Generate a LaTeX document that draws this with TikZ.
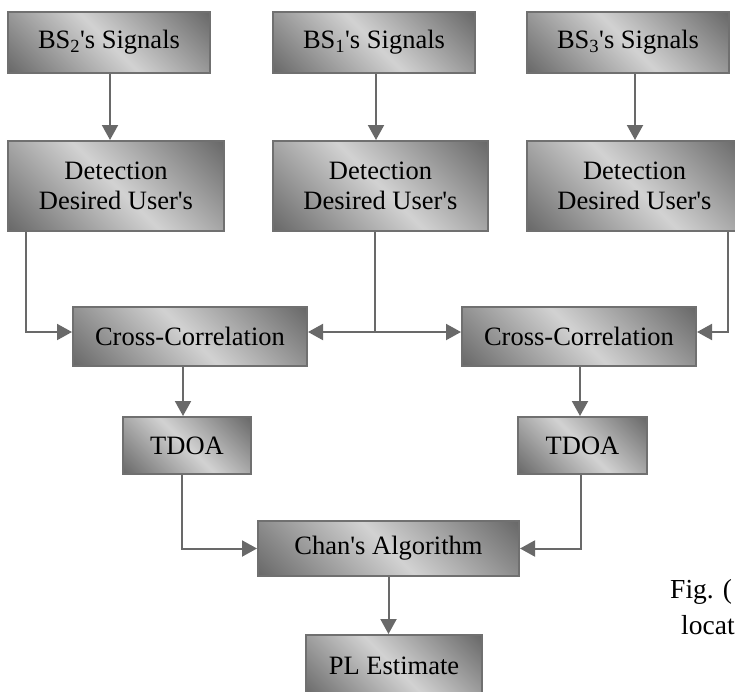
\documentclass[tikz,border=0pt]{standalone}
\usepackage{fontspec}
\setmainfont{Liberation Serif}[Ligatures=TeXOff]
\usetikzlibrary{arrows.meta}
\definecolor{boxdark}{RGB}{102,102,102}
\definecolor{boxlight}{RGB}{210,210,210}
\definecolor{edgecol}{RGB}{112,112,112}
\definecolor{linecol}{RGB}{105,105,105}
\pgfdeclareverticalshading{boxshade}{100bp}{color(0bp)=(boxdark); color(14bp)=(boxdark); color(50bp)=(boxlight); color(86bp)=(boxdark); color(100bp)=(boxdark)}
\begin{document}
\begin{tikzpicture}[x=1pt,y=-1pt,
  blk/.style={draw=edgecol, line width=2pt, inner sep=0pt, align=center,
    font=\fontsize{26.5}{30}\selectfont,
    shading=boxshade, shading angle=135},
  con/.style={draw=linecol, line width=2pt},
  arr/.style={con, -{Triangle[length=15pt,width=16pt]}},
  captext/.style={inner sep=0pt, font=\fontsize{27.5}{33}\selectfont}]
\useasboundingbox (0,0) rectangle (735,691);
% row 1
\node[blk, minimum width=202pt, minimum height=61pt] (bs2) at (109,42.5) {BS\textsubscript{2}'s Signals};
\node[blk, minimum width=202pt, minimum height=61pt] (bs1) at (374,42.5) {BS\textsubscript{1}'s Signals};
\node[blk, minimum width=202pt, minimum height=61pt] (bs3) at (628,42.5) {BS\textsubscript{3}'s Signals};
% row 2
\node[blk, minimum width=216pt, minimum height=90pt] (det2) at (116,186) {Detection\\Desired User's};
\node[blk, minimum width=215pt, minimum height=90pt] (det1) at (380.5,186) {Detection\\Desired User's};
\node[blk, minimum width=215pt, minimum height=90pt] (det3) at (634.5,186) {Detection\\Desired User's};
% row 3
\node[blk, minimum width=234pt, minimum height=59pt] (cc1) at (190,336.5) {Cross-Correlation};
\node[blk, minimum width=234pt, minimum height=59pt] (cc2) at (579,336.5) {Cross-Correlation};
% row 4
\node[blk, minimum width=128pt, minimum height=57pt] (td1) at (187,445.5) {TDOA};
\node[blk, minimum width=129pt, minimum height=57pt] (td2) at (582.5,445.5) {TDOA};
% row 5
\node[blk, minimum width=261pt, minimum height=55pt] (chan) at (388.5,548.5) {Chan's Algorithm};
% row 6
\node[blk, minimum width=176pt, minimum height=62pt] (pl) at (394,666) {PL Estimate};
% caption fragment
\node[captext, anchor=base west] (fig) at (670,598) {Fig. (};
\node[captext, anchor=base west] (loc) at (681,634) {locat};
% connectors
\draw[arr] ([xshift=1pt]bs2.south) -- ([xshift=1pt]bs2.south |- det2.north);
\draw[arr] ([xshift=2pt]bs1.south) -- ([xshift=2pt]bs1.south |- det1.north);
\draw[arr] ([xshift=7pt]bs3.south) -- ([xshift=7pt]bs3.south |- det3.north);
\draw[arr] ([xshift=-90pt]det2.south) |- ([yshift=4.5pt]cc1.west);
\coordinate (j) at (375,332);
\draw[con] ([xshift=-5.5pt]det1.south) -- (j);
\draw[arr] (j) -- ([yshift=4.5pt]cc1.east);
\draw[arr] (j) -- ([yshift=4.5pt]cc2.west);
\draw[arr] ([xshift=93.5pt]det3.south) |- ([yshift=4.5pt]cc2.east);
\draw[arr] ([xshift=-7pt]cc1.south) -- ([xshift=-7pt]cc1.south |- td1.north);
\draw[arr] ([xshift=1pt]cc2.south) -- ([xshift=1pt]cc2.south |- td2.north);
\draw[arr] ([xshift=-5pt]td1.south) |- (chan.west);
\draw[arr] ([xshift=-1.5pt]td2.south) |- (chan.east);
\draw[arr] (chan.south) -- (chan.south |- pl.north);
\end{tikzpicture}
\end{document}
